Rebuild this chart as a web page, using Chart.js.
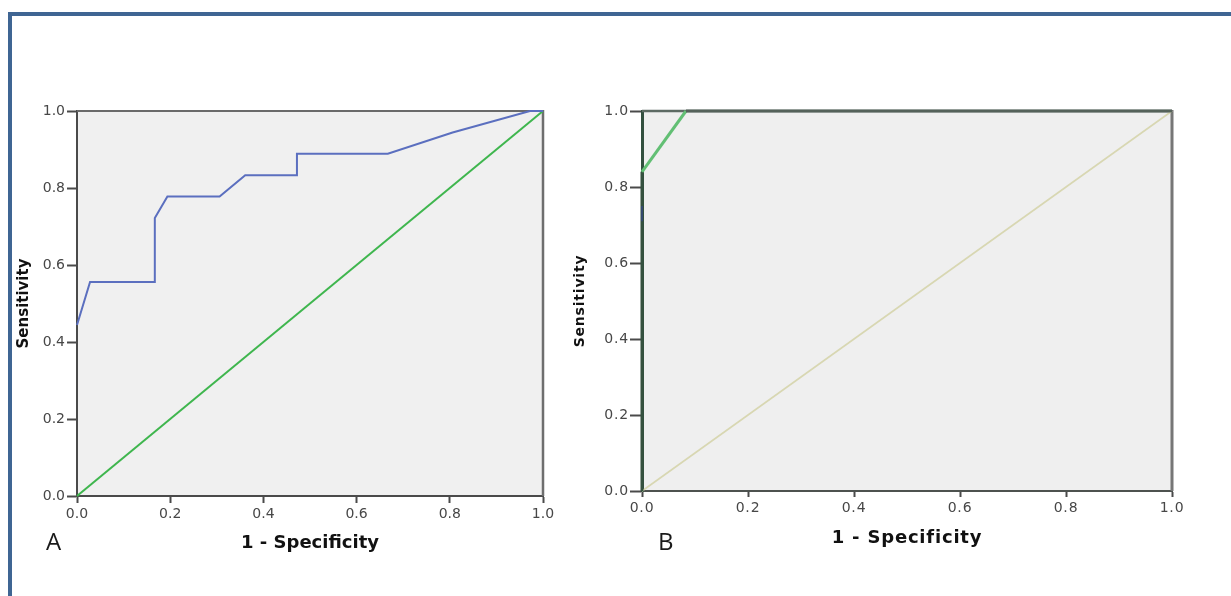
<!DOCTYPE html>
<html><head><meta charset="utf-8">
<script src="https://cdn.jsdelivr.net/npm/chart.js@4.4.1/dist/chart.umd.min.js"></script>
<style>
html,body{margin:0;padding:0;background:#fff;width:1231px;height:596px;overflow:hidden;position:relative}
#frame{position:absolute;left:8px;top:12px;width:1260px;height:640px;border:4.5px solid #3f6593;box-sizing:border-box}
#ca{position:absolute;left:0;top:0}
#cb{position:absolute;left:560px;top:0}
.lab{position:absolute;font-family:"Open Sans",sans-serif;font-size:24px;line-height:24px;color:#1a1a1a}
</style></head><body>
<div id="frame"></div>
<canvas id="ca" width="570" height="596"></canvas>
<canvas id="cb" width="671" height="596"></canvas>
<div class="lab" style="left:46px;top:529px">A</div>
<div class="lab" style="left:658px;top:529px">B</div>
<script>
// ---- data ----
const axisTicks = [0, 0.2, 0.4, 0.6, 0.8, 1.0];
const xTitle = "1 - Specificity";
const yTitle = "Sensitivity";

const rocA_fpr = [0, 0.028, 0.167, 0.167, 0.194, 0.306, 0.361, 0.472, 0.472, 0.667, 0.806, 0.972, 1.0];
const rocA_tpr = [0.444, 0.556, 0.556, 0.722, 0.778, 0.778, 0.833, 0.833, 0.889, 0.889, 0.944, 1.0, 1.0];
const refA_fpr = [0, 1];
const refA_tpr = [0, 1];

const rocB_fpr = [0, 0, 0.083, 1.0];
const rocB_tpr = [0, 0.84, 1.0, 1.0];
const rocB2_fpr = [0, 0];
const rocB2_tpr = [0.71, 0.75];
const refB_fpr = [0, 1];
const refB_tpr = [0, 1];

const pts = (xs, ys) => xs.map((x, i) => ({x, y: ys[i]}));

// ---- plugins ----
const plotFrame = {
  id: 'plotFrame',
  beforeDraw(chart, args, o) {
    const {ctx, chartArea: a} = chart;
    ctx.save();
    ctx.fillStyle = o.bg;
    ctx.fillRect(a.left, a.top, a.right - a.left, a.bottom - a.top);
    ctx.restore();
    if (o.letterSpacing) ctx.letterSpacing = o.letterSpacing;
  },
  beforeDatasetsDraw(chart, args, o) {
    const {ctx, chartArea: a} = chart;
    ctx.save();
    ctx.lineWidth = o.topWidth;
    ctx.strokeStyle = o.topColor;
    ctx.beginPath(); ctx.moveTo(a.left, a.top); ctx.lineTo(a.right, a.top); ctx.stroke();
    ctx.lineWidth = o.rightWidth;
    ctx.strokeStyle = o.rightColor;
    ctx.beginPath(); ctx.moveTo(a.right, a.top - 1); ctx.lineTo(a.right, a.bottom); ctx.stroke();
    ctx.restore();
  }
};

function makeScales(cfg) {
  const fix = v => Math.round(v * 10) / 10;
  return {
    x: {
      type: 'linear', min: 0, max: 1,
      afterBuildTicks: s => { s.ticks = axisTicks.map(v => ({value: v})); },
      afterFit: s => { s.height = cfg.xH; },
      ticks: {callback: v => fix(v).toFixed(1), padding: cfg.xPad, color: '#474747',
              font: {family: 'DejaVu Sans', size: 14}, maxRotation: 0, autoSkip: false},
      grid: {drawOnChartArea: false, drawTicks: true, tickLength: cfg.xTick, tickWidth: 2, tickColor: '#4a4a4a'},
      border: {display: true, color: cfg.bottomColor, width: cfg.bottomWidth},
      title: {display: true, text: xTitle, color: '#111',
              font: {family: 'DejaVu Sans', weight: 'bold', size: cfg.xTitleSize},
              padding: {top: 0, bottom: cfg.xTitlePad}}
    },
    y: {
      type: 'linear', min: 0, max: 1,
      afterBuildTicks: s => { s.ticks = axisTicks.map(v => ({value: v})); },
      afterFit: s => { s.width = cfg.yW; },
      ticks: {callback: v => fix(v).toFixed(1), padding: cfg.yPad, color: '#474747',
              font: {family: 'DejaVu Sans', size: 14}, autoSkip: false},
      grid: {drawOnChartArea: false, drawTicks: true, tickLength: cfg.yTick, tickWidth: 2, tickColor: '#4a4a4a'},
      border: {display: true, color: cfg.leftColor, width: cfg.leftWidth},
      title: {display: true, text: yTitle, color: '#111',
              font: {family: 'DejaVu Sans', weight: 'bold', size: cfg.yTitleSize},
              padding: {top: cfg.yTitlePad, bottom: 0}}
    }
  };
}

// ---- chart A ----
new Chart(document.getElementById('ca'), {
  type: 'line',
  data: {datasets: [
    {label: 'ROC', data: pts(rocA_fpr, rocA_tpr), borderColor: '#5b6fbf', borderWidth: 2,
     pointRadius: 0, tension: 0, clip: false},
    {label: 'Reference', data: pts(refA_fpr, refA_tpr), borderColor: '#3fb64e', borderWidth: 2,
     pointRadius: 0, tension: 0, clip: false}
  ]},
  options: {
    responsive: false, animation: false, devicePixelRatio: 1,
    layout: {padding: {left: 0, top: 111, right: 27, bottom: 0}},
    plugins: {legend: {display: false}, tooltip: {enabled: false},
      plotFrame: {bg: '#f0f0f0', topColor: '#6a6a6a', topWidth: 2, rightColor: '#6e6e6e', rightWidth: 2.5}},
    scales: makeScales({xH: 100, yW: 77, xPad: 3, yPad: 2, xTick: 7, yTick: 10,
      bottomColor: '#4a4a4a', bottomWidth: 2, leftColor: '#4a4a4a', leftWidth: 2,
      xTitleSize: 18, xTitlePad: 42, yTitleSize: 15, yTitlePad: 15})
  },
  plugins: [plotFrame]
});

// ---- chart B ----
const segColorsB = ['#35513f', '#62bf74', '#55625a'];
new Chart(document.getElementById('cb'), {
  type: 'line',
  data: {datasets: [
    {label: 'ROC 2', data: pts(rocB2_fpr, rocB2_tpr), borderColor: '#34496e', borderWidth: 2,
     pointRadius: 0, tension: 0, clip: false, order: 0},
    {label: 'ROC', data: pts(rocB_fpr, rocB_tpr), borderColor: '#62bf74', borderWidth: 3,
     segment: {borderColor: c => segColorsB[c.p0DataIndex]},
     pointRadius: 0, tension: 0, clip: false, order: 1},
    {label: 'Reference', data: pts(refB_fpr, refB_tpr), borderColor: '#d8d7b2', borderWidth: 1.6,
     pointRadius: 0, tension: 0, clip: false, order: 2}
  ]},
  options: {
    responsive: false, animation: false, devicePixelRatio: 1,
    layout: {padding: {left: 0, top: 111, right: 59, bottom: 0}},
    plugins: {legend: {display: false}, tooltip: {enabled: false},
      plotFrame: {bg: '#efefef', topColor: '#5d6a63', topWidth: 2.5, rightColor: '#767676', rightWidth: 3,
                  letterSpacing: '0.8px'}},
    scales: makeScales({xH: 105, yW: 82, xPad: 3, yPad: 1, xTick: 6, yTick: 12,
      bottomColor: '#4d524f', bottomWidth: 2, leftColor: '#33503f', leftWidth: 3,
      xTitleSize: 18, xTitlePad: 47, yTitleSize: 14, yTitlePad: 12})
  },
  plugins: [plotFrame]
});
</script>
</body></html>
